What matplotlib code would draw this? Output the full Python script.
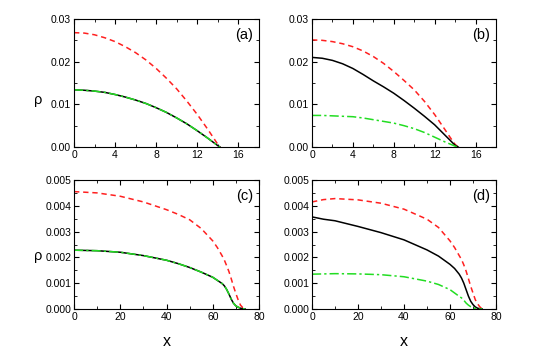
import matplotlib
matplotlib.use('Agg')
import matplotlib.pyplot as plt
from matplotlib.ticker import MultipleLocator

plt.rcParams['font.family'] = ['Liberation Sans', 'DejaVu Sans']

# panel (a)
xa = [0, 1, 2, 3, 4, 5, 6, 7, 8, 9, 10, 11, 12, 13, 13.5, 14, 14.2]
a_red = [0.0268, 0.0267, 0.0263, 0.0256, 0.0247, 0.0235, 0.0221, 0.0204, 0.0184, 0.0161, 0.0136, 0.0107, 0.0076, 0.0042, 0.0024, 0.0006, 0.0]
a_black = [0.0134, 0.0133, 0.0131, 0.0128, 0.0123, 0.0117, 0.0110, 0.0102, 0.0092, 0.0081, 0.0068, 0.0054, 0.0038, 0.0021, 0.0012, 0.0003, 0.0]
a_green = list(a_black)

# panel (b)
xb = [0, 1, 2, 3, 4, 5, 6, 7, 8, 9, 10, 11, 12, 13, 13.5, 14, 14.3]
b_red = [0.0251, 0.0250, 0.0247, 0.0242, 0.0235, 0.0225, 0.0212, 0.0196, 0.0177, 0.0156, 0.0134, 0.0107, 0.0076, 0.0041, 0.0023, 0.0006, 0.0]
b_black = [0.0210, 0.0208, 0.0203, 0.0195, 0.0184, 0.0170, 0.0155, 0.0141, 0.0126, 0.0109, 0.0091, 0.0072, 0.0052, 0.0028, 0.0016, 0.0004, 0.0]
b_green = [0.0074, 0.0074, 0.0073, 0.0072, 0.0071, 0.0068, 0.0064, 0.0060, 0.0056, 0.0050, 0.0043, 0.0034, 0.0023, 0.0012, 0.0007, 0.0002, 0.0]

# panel (c)
xc = [0, 10, 20, 30, 40, 45, 50, 55, 60, 62, 64, 65, 66, 67, 68, 69, 70, 71, 72, 73, 74]
c_red = [0.00455, 0.00450, 0.00437, 0.00415, 0.00385, 0.00367, 0.00346, 0.00312, 0.00264, 0.00238, 0.00207, 0.00190, 0.00168, 0.00145, 0.00117, 0.00087, 0.00060, 0.00035, 0.00015, 0.00005, 0.0]
c_black = [0.00228, 0.00226, 0.00220, 0.00207, 0.00189, 0.00176, 0.00161, 0.00143, 0.00123, 0.00111, 0.00099, 0.00090, 0.00076, 0.00058, 0.00038, 0.00022, 0.00012, 0.00007, 0.00003, 0.00001, 0.0]
c_green = list(c_black)

# panel (d)
xd = [0, 5, 10, 20, 30, 40, 50, 55, 60, 62, 64, 65, 66, 67, 68, 69, 70, 71, 72, 73, 74]
d_red = [0.00415, 0.00424, 0.00428, 0.00423, 0.00410, 0.00387, 0.00348, 0.00316, 0.00264, 0.00238, 0.00207, 0.00192, 0.00171, 0.00147, 0.00118, 0.00088, 0.00062, 0.00036, 0.00020, 0.00008, 0.0]
d_black = [0.00357, 0.00348, 0.00342, 0.00320, 0.00296, 0.00268, 0.00229, 0.00205, 0.00173, 0.00157, 0.00135, 0.00120, 0.00100, 0.00075, 0.00050, 0.00030, 0.00017, 0.00008, 0.00003, 0.00001, 0.0]
d_green = [0.00135, 0.00136, 0.00137, 0.00136, 0.00133, 0.00125, 0.00108, 0.00095, 0.00075, 0.00062, 0.00049, 0.00043, 0.00034, 0.00023, 0.00015, 0.00009, 0.00005, 0.00002, 0.0, 0.0, 0.0]

panels = [
    ('(a)', xa, a_red, a_black, a_green, 18, 4, 0.03, 0.01, '%.2f'),
    ('(b)', xb, b_red, b_black, b_green, 18, 4, 0.03, 0.01, '%.2f'),
    ('(c)', xc, c_red, c_black, c_green, 80, 20, 0.005, 0.001, '%.3f'),
    ('(d)', xd, d_red, d_black, d_green, 80, 20, 0.005, 0.001, '%.3f'),
]

fig = plt.figure(figsize=(5.38, 3.49), dpi=100)
W, H = 538, 349
boxes = [(74, 19, 185, 128), (312, 19, 184, 128),
         (74, 180, 185, 129), (312, 180, 184, 129)]
rho_y = {'(a)': 0.37, '(c)': 0.41}

for (lab, x, r, k, g, xmax, xstep, ymax, ystep, fmt), (l, t, w, h) in zip(panels, boxes):
    ax = fig.add_axes([l / W, 1 - (t + h) / H, w / W, h / H])
    ax.plot(x, r, color='#ff2020', ls=(0, (3.5, 2.5)), lw=1.1)
    ax.plot(x, k, color='black', lw=1.1)
    ax.plot(x, g, color='#22dd22', ls=(0, (6, 2, 1.5, 2)), lw=1.1)
    ax.set_xlim(0, xmax)
    ax.set_ylim(0, ymax)
    ax.xaxis.set_major_locator(MultipleLocator(xstep))
    ax.xaxis.set_minor_locator(MultipleLocator(xstep / 2))
    ax.yaxis.set_major_locator(MultipleLocator(ystep))
    ax.yaxis.set_minor_locator(MultipleLocator(ystep / 2))
    ax.yaxis.set_major_formatter(plt.FormatStrFormatter(fmt))
    ax.tick_params(which='both', direction='in', top=True, right=True, labelsize=7.5, pad=2)
    ax.tick_params(which='major', length=3.5, width=0.8)
    ax.tick_params(which='minor', length=2, width=0.6)
    for s in ax.spines.values():
        s.set_linewidth(0.8)
    ax.text(0.97, 0.93, lab, transform=ax.transAxes, ha='right', va='top', fontsize=10.5)
    if lab in rho_y:
        ax.text(-0.195, rho_y[lab], 'ρ', transform=ax.transAxes, ha='center', va='center', fontsize=10.5)
    if lab in ('(c)', '(d)'):
        ax.set_xlabel('x', fontsize=11.5, labelpad=9)

fig.savefig('out.png', dpi=100)
